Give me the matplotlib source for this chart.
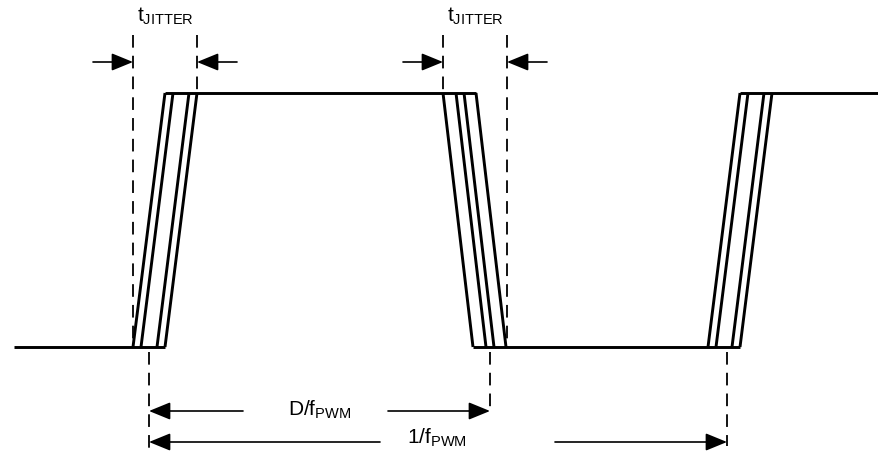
import matplotlib
matplotlib.use("Agg")
import matplotlib.pyplot as plt
from matplotlib.patches import FancyArrowPatch

plt.rcParams["font.family"] = ["Liberation Sans", "DejaVu Sans"]
plt.rcParams["mathtext.fontset"] = "custom"
plt.rcParams["mathtext.rm"] = "Liberation Sans"
plt.rcParams["mathtext.default"] = "rm"

# levels and time axis (drawing units ~ pixels)
level_high = 93
level_low = 347
x_start, x_end = 14, 879

# jittered edges: start of each edge (at its starting level) and offsets
rise1_start = 133
fall_start = 443
rise2_start = 708
rise_offsets = [0, 8, 24, 32]
fall_offsets = [0, 13, 21, 33]
edge_width = 32

# jitter markers
jitter_left = [133, 443]
jitter_right = [197, 507]
jitter_labels = ["t_{JITTER}", "t_{JITTER}"]

# period markers
t_zero = 149
t_duty = 490
t_period = 727

fig = plt.figure(figsize=(8.79, 4.54), dpi=100)
ax = fig.add_axes([0, 0, 1, 1])
ax.set_xlim(0, 879)
ax.set_ylim(454, 0)
ax.axis("off")

sig = dict(color="black", lw=2.1, solid_capstyle="butt", solid_joinstyle="miter")

# flat parts
ax.plot([x_start, rise1_start + rise_offsets[-1]], [level_low, level_low], **sig)
ax.plot([rise1_start + edge_width, fall_start + fall_offsets[-1]], [level_high, level_high], **sig)
ax.plot([fall_start + edge_width - 2, rise2_start + rise_offsets[-1]], [level_low, level_low], **sig)
ax.plot([rise2_start + edge_width, x_end], [level_high, level_high], **sig)

# edges
for o in rise_offsets:
    ax.plot([rise1_start + o, rise1_start + o + edge_width], [level_low, level_high], **sig)
    ax.plot([rise2_start + o, rise2_start + o + edge_width], [level_low, level_high], **sig)
for o in fall_offsets:
    ax.plot([fall_start + o, fall_start + o + edge_width - 2], [level_high, level_low], **sig)

dash = dict(color="black", lw=1.3, dashes=(7, 4.5))

# jitter dashed lines
ax.plot([jitter_left[0], jitter_left[0]], [35, level_low], **dash)
ax.plot([jitter_right[0], jitter_right[0]], [35, level_high], **dash)
ax.plot([jitter_left[1], jitter_left[1]], [35, level_high], **dash)
ax.plot([jitter_right[1], jitter_right[1]], [35, level_low], **dash)

# period dashed lines
ax.plot([t_zero, t_zero], [352, 454], **dash)
ax.plot([t_duty, t_duty], [352, 412], **dash)
ax.plot([t_period, t_period], [352, 446], **dash)


def arrow(x0, x1, y):
    a = FancyArrowPatch((x0, y), (x1, y), arrowstyle="-|>,head_length=1.1,head_width=0.45",
                        mutation_scale=12, color="black", lw=1.2, shrinkA=0, shrinkB=0)
    ax.add_patch(a)


arrow_y = 62
for xl, xr, lab in zip(jitter_left, jitter_right, jitter_labels):
    arrow(xl - 40, xl, arrow_y)
    arrow(xr + 40, xr, arrow_y)
    ax.text((xl + xr) / 2, 16, "$" + lab + "$", fontsize=15, ha="center", va="center")

# D/fPWM
ax.text(320, 410, "$D/f_{PWM}$", fontsize=15, ha="center", va="center")
arrow(243, t_zero, 411)
arrow(388, t_duty, 411)

# 1/fPWM
ax.text(437, 438, "$1/f_{PWM}$", fontsize=15, ha="center", va="center")
arrow(380, t_zero, 442)
arrow(555, t_period, 442)

fig.savefig("out.png", dpi=100, facecolor="white")
